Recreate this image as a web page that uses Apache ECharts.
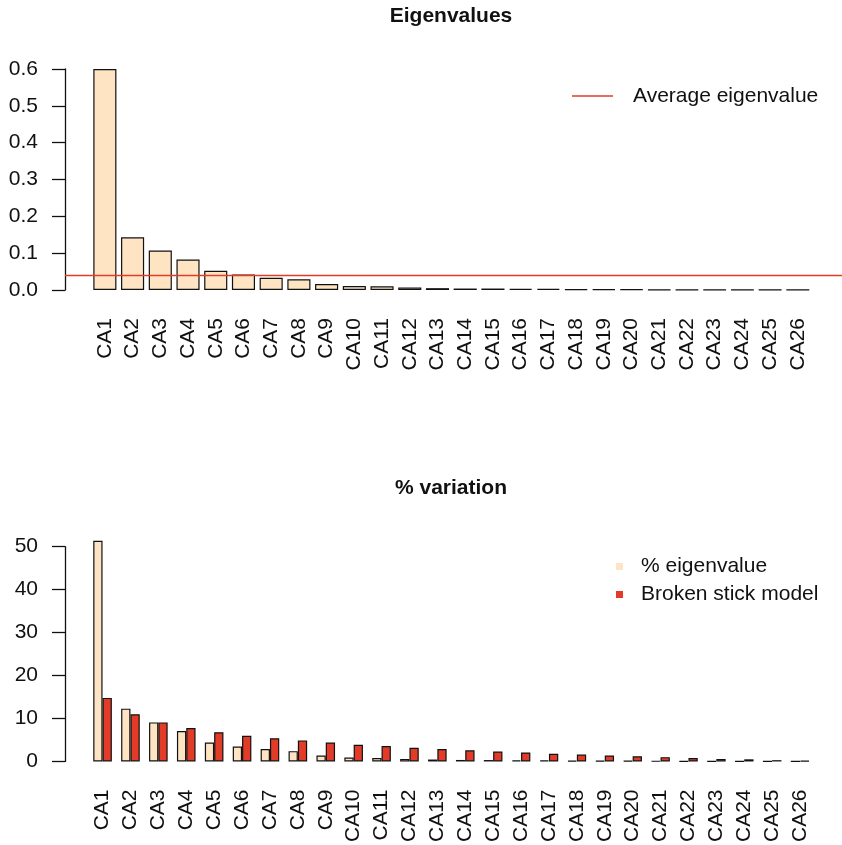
<!DOCTYPE html>
<html>
<head>
<meta charset="utf-8">
<script src="https://cdn.jsdelivr.net/npm/echarts@6/dist/echarts.min.js"></script>
<style>html,body{margin:0;padding:0;background:#fff}#c{width:842px;height:845px}</style>
</head>
<body>
<div id="c"></div>
<script>
const categories = ['CA1','CA2','CA3','CA4','CA5','CA6','CA7','CA8','CA9','CA10','CA11','CA12','CA13','CA14','CA15','CA16','CA17','CA18','CA19','CA20','CA21','CA22','CA23','CA24','CA25','CA26'];
const eigenvalues = [0.600,0.143,0.107,0.083,0.052,0.042,0.033,0.029,0.016,0.011,0.010,0.007,0.005,0.004,0.004,0.003,0.003,0.002,0.002,0.0015,0.0012,0.001,0.0008,0.0006,0.0004,0.0002];
const averageEigenvalue = 0.0445;
const pctEigenvalue = [51.4,12.3,9.1,7.1,4.4,3.5,2.9,2.4,1.4,0.9,0.8,0.6,0.45,0.35,0.33,0.27,0.24,0.19,0.16,0.13,0.10,0.08,0.07,0.05,0.03,0.02];
const brokenStick = [14.8,11.0,9.1,7.8,6.8,6.0,5.4,4.9,4.4,3.9,3.6,3.2,2.9,2.6,2.3,2.1,1.8,1.6,1.4,1.2,1.0,0.8,0.6,0.5,0.3,0.15];
const yTicksTop = [0, 0.6, 0.1];
const yTicksBottom = [0, 50, 10];

const FONT = 'Liberation Sans, Arial, Helvetica, sans-serif';
const BEIGE = '#FFE4C4';
const RED = '#E23C28';
const INK = '#111';
const FS = 21;

const chart = echarts.init(document.getElementById('c'), null, {renderer: 'canvas'});

const catAxis = (gi) => ({
  type: 'category', gridIndex: gi, data: categories, boundaryGap: true,
  axisLine: {show: false}, axisTick: {show: false},
  axisLabel: {interval: 0, rotate: 90, margin: 28, fontSize: FS, fontFamily: FONT, color: INK}
});
const valAxis = (gi, t, fmt, show, offset) => ({
  type: 'value', gridIndex: gi, min: t[0], max: t[1], interval: t[2],
  show: show, offset: offset || 0,
  splitLine: {show: false},
  axisLine: {show: true, lineStyle: {color: INK, width: 1.3}},
  axisTick: {show: true, length: 13, lineStyle: {color: INK, width: 1.3}},
  axisLabel: {margin: 27, fontSize: FS, fontFamily: FONT, color: INK, formatter: fmt}
});

chart.setOption({
  animation: false,
  backgroundColor: '#fff',
  graphic: [
    {type: 'text', x: 451, y: 16, style: {text: 'Eigenvalues', align: 'center', verticalAlign: 'middle', font: 'bold 21px ' + FONT, fill: INK}},
    {type: 'text', x: 451, y: 488, style: {text: '% variation', align: 'center', verticalAlign: 'middle', font: 'bold 21px ' + FONT, fill: INK}}
  ],
  grid: [
    {left: 91, width: 720.7, top: 69, height: 221, containLabel: false},
    {left: 65, right: 0, top: 69, height: 221, containLabel: false},
    {left: 88.6, width: 725.4, top: 546.7, height: 215, containLabel: false}
  ],
  xAxis: [
    catAxis(0),
    {type: 'value', gridIndex: 1, min: 0, max: 1, show: false},
    catAxis(2)
  ],
  yAxis: [
    valAxis(0, yTicksTop, v => v.toFixed(1), false),
    valAxis(1, yTicksTop, v => v.toFixed(1), true),
    valAxis(2, yTicksBottom, v => String(v), true, 23.6)
  ],
  legend: [
    {
      data: [{name: 'Average eigenvalue', icon: 'rect'}],
      left: 572, top: 85.5, padding: 0, itemWidth: 41, itemHeight: 1.5,
      itemStyle: {borderWidth: 0},
      formatter: '{t|{name}}',
      textStyle: {fontSize: FS, fontFamily: FONT, color: INK, rich: {t: {fontSize: FS, fontFamily: FONT, color: INK, padding: [0, 0, 0, 15]}}}
    },
    {
      data: [{name: '% eigenvalue', icon: 'rect'}, {name: 'Broken stick model', icon: 'rect'}],
      orient: 'vertical', left: 616, top: 556, padding: 0, itemWidth: 7, itemHeight: 7, itemGap: 7,
      itemStyle: {borderWidth: 0},
      formatter: '{t|{name}}',
      textStyle: {fontSize: FS, fontFamily: FONT, color: INK, rich: {t: {fontSize: FS, fontFamily: FONT, color: INK, padding: [0, 0, 0, 13]}}}
    }
  ],
  series: [
    {
      name: 'Eigenvalues', type: 'bar', xAxisIndex: 0, yAxisIndex: 0, data: eigenvalues,
      barWidth: '83.33%', clip: false,
      itemStyle: {color: BEIGE, borderColor: INK, borderWidth: 1.2}
    },
    {
      name: 'Average eigenvalue', type: 'line', xAxisIndex: 1, yAxisIndex: 1,
      data: [], color: RED, symbol: 'none',
      markLine: {silent: true, symbol: 'none', label: {show: false},
        lineStyle: {color: RED, width: 1.4, type: 'solid'},
        data: [{yAxis: averageEigenvalue}]}
    },
    {
      name: '% eigenvalue', type: 'bar', xAxisIndex: 2, yAxisIndex: 2, data: pctEigenvalue,
      barWidth: '33.33%', barGap: '0%', clip: false,
      itemStyle: {color: BEIGE, borderColor: INK, borderWidth: 1.2}
    },
    {
      name: 'Broken stick model', type: 'bar', xAxisIndex: 2, yAxisIndex: 2, data: brokenStick,
      barWidth: '33.33%', barGap: '0%', clip: false,
      itemStyle: {color: RED, borderColor: INK, borderWidth: 1.2}
    }
  ]
});
</script>
</body>
</html>
